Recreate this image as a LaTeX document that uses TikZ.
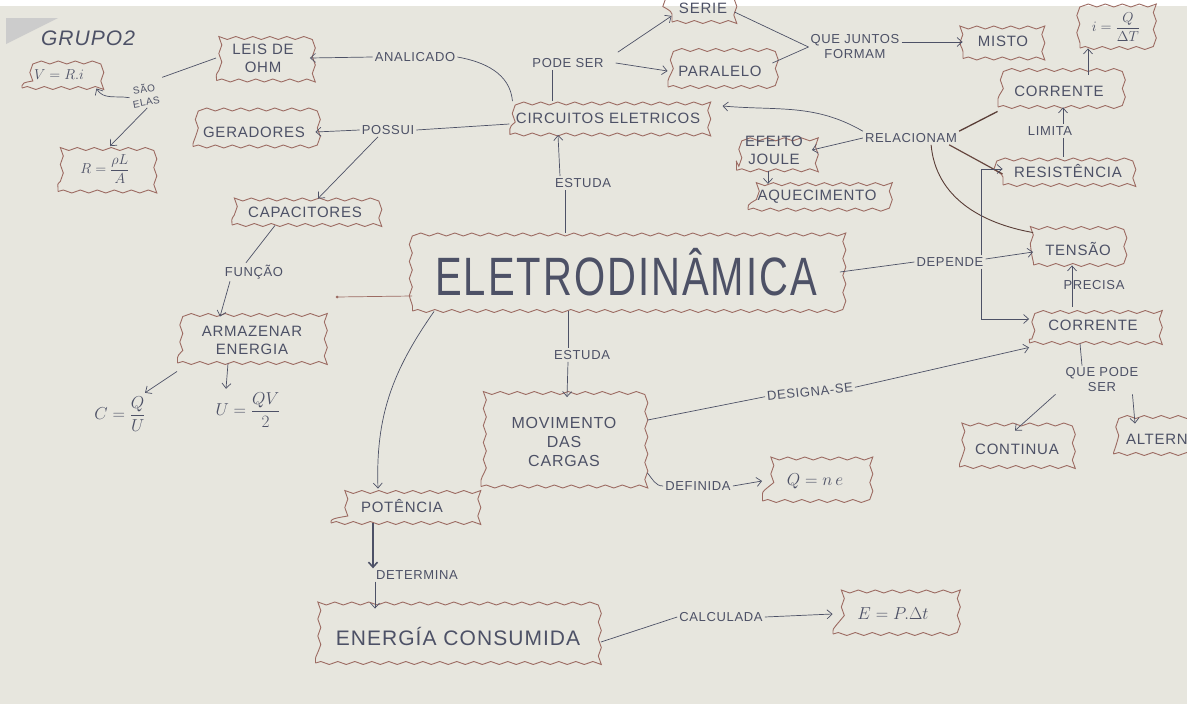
\documentclass[tikz,border=0pt]{standalone}
\usepackage{amsmath}
\usepackage{fontspec}
\setmainfont[LetterSpace=5]{Liberation Sans}
\usetikzlibrary{arrows.meta,decorations.pathmorphing}

\definecolor{paper}{HTML}{E7E6DE}
\definecolor{ink}{HTML}{4D5166}
\definecolor{cloudline}{HTML}{9C6B62}
\definecolor{darkline}{HTML}{5A3E37}

\begin{document}
\begin{tikzpicture}[x=1pt,y=-1pt,
  box/.style={draw=cloudline, line width=0.9pt, decorate,
    decoration={snake, amplitude=1.5pt, segment length=17pt},
    align=center, text=ink, inner sep=6pt, font=\fontsize{15}{18}\selectfont},
  lbl/.style={text=ink, align=center, inner sep=2pt, font=\fontsize{13}{15}\selectfont},
  link/.style={draw=ink, line width=0.7pt},
  arr/.style={link, -{Straight Barb[length=5pt,width=9pt]}}]

  % paper
  \useasboundingbox (0,0) rectangle (1187,704);
  \clip (0,0) rectangle (1187,704);
  \fill[paper] (0,0) rectangle (1187,704);
  \fill[white] (0,0) rectangle (1187,6);
  \fill[gray!40] (6,18) -- (58,18) -- (6,44) -- cycle;

  \node[text=ink, font=\fontsize{21}{23}\itshape\selectfont] (grupo) at (88,38) {GRUPO2};

  % centre
  \node[box, font=\fontsize{40}{44}\selectfont, minimum width=427pt, minimum height=78pt]
    (eletro) at (626,272) {\scalebox{1}[1.35]{ELETRODINÂMICA}};
  \coordinate (stray) at (337,297);

  % top left: leis de ohm, geradores, capacitores
  \node[box, minimum width=93pt, minimum height=45pt] (leis) at (263,58) {LEIS DE\\OHM};
  \node[box, minimum width=74pt, minimum height=26pt] (vri) at (59,75) {$V=R.i$};
  \node[box, minimum width=94pt, minimum height=45pt] (rla) at (105,169) {$R=\dfrac{\rho L}{A}$};
  \node[lbl, rotate=10, font=\fontsize{10}{13}\selectfont] (sao) at (145,95) {SÃO\\ELAS};
  \node[lbl] (ana) at (415,57) {ANALICADO};
  \node[box, minimum width=122pt, minimum height=29pt] (ger) at (254,132) {GERADORES};
  \node[lbl] (possui) at (388,130) {POSSUI};
  \node[box, minimum width=146pt, minimum height=26pt] (cap) at (305,212) {CAPACITORES};
  \node[lbl] (funcao) at (254,272) {FUNÇÃO};
  \node[box, minimum width=149pt, minimum height=46pt] (arm) at (252,340) {ARMAZENAR\\ENERGIA};
  \node[text=ink, font=\fontsize{16}{18}\selectfont] (cqu) at (120,414) {$C=\dfrac{Q}{U}$};
  \node[text=ink, font=\fontsize{16}{18}\selectfont] (uqv) at (248,410) {$U=\dfrac{QV}{2}$};

  % top middle: circuitos
  \node[box, minimum width=196pt, minimum height=33pt] (circ) at (608,118) {CIRCUITOS ELETRICOS};
  \node[lbl] (pode) at (568,63) {PODE SER};
  \node[box, minimum width=62pt, minimum height=28pt] (serie) at (703,8) {SERIE};
  \node[box, minimum width=104pt, minimum height=32pt] (para) at (720,71) {PARALELO};
  \node[lbl] (juntos) at (855,47) {QUE JUNTOS\\FORMAM};
  \node[box, minimum width=80pt, minimum height=35pt] (misto) at (1003,41) {MISTO};
  \node[lbl] (estuda1) at (583,183) {ESTUDA};
  \node[lbl] (rel) at (911,138) {RELACIONAM};
  \node[box, minimum width=75pt, minimum height=38pt] (joule) at (774,150) {EFEITO\\JOULE};
  \node[box, minimum width=138pt, minimum height=25pt] (aque) at (817,197) {AQUECIMENTO};

  % right column
  \node[box, minimum width=72pt, minimum height=42pt] (iqt) at (1116,27) {$i=\dfrac{Q}{\Delta T}$};
  \node[box, minimum width=122pt, minimum height=32pt] (corr1) at (1059,91) {CORRENTE};
  \node[lbl] (limita) at (1050,131) {LIMITA};
  \node[box, minimum width=130pt, minimum height=28pt] (res) at (1068,171) {RESISTÊNCIA};
  \node[lbl] (dep) at (950,262) {DEPENDE};
  \node[box, minimum width=89pt, minimum height=32pt] (ten) at (1078,249) {TENSÃO};
  \node[lbl] (precisa) at (1094,285) {PRECISA};
  \node[box, minimum width=127pt, minimum height=36pt] (corr2) at (1093,325) {CORRENTE};
  \node[lbl] (qps) at (1102,380) {QUE PODE\\SER};
  \node[box, minimum width=115pt, minimum height=36pt] (cont) at (1017,449) {CONTINUA};
  \node[box, minimum width=120pt, minimum height=30pt, anchor=west] (alt) at (1113,439) {ALTERNADA};

  % bottom middle
  \node[lbl] (estuda2) at (582,355) {ESTUDA};
  \node[box, minimum width=166pt, minimum height=89pt, font=\fontsize{16}{19}\selectfont]
    (mov) at (564,442) {MOVIMENTO\\DAS\\CARGAS};
  \node[lbl, rotate=6] (desig) at (810,392) {DESIGNA-SE};
  \node[lbl] (def) at (698,486) {DEFINIDA};
  \node[box, minimum width=105pt, minimum height=40pt, font=\fontsize{18}{20}\selectfont] (qne) at (815,481) {$Q=n\,e$};
  \node[box, minimum width=142pt, minimum height=34pt] (pot) at (402,506) {POTÊNCIA};
  \node[lbl] (det) at (417,575) {DETERMINA};
  \node[box, minimum width=285pt, minimum height=54pt, font=\fontsize{21}{24}\selectfont]
    (energia) at (458,636) {ENERGÍA CONSUMIDA};
  \node[lbl] (calc) at (721,617) {CALCULADA};
  \node[box, minimum width=120pt, minimum height=40pt, font=\fontsize{18}{20}\selectfont] (ept) at (893,614) {$E=P.\Delta t$};

  % connectors: left
  \draw[arr] (ana.west) -- (leis.east);
  \draw[link] (ana.east) to[out=-10,in=95] ([xshift=3pt]circ.north west);
  \draw[link] (leis.west) -- ([xshift=4pt,yshift=2pt]sao.north east);
  \draw[arr] (sao.west) to[out=170,in=-60] (vri.south east);
  \draw[arr] (sao.south) -- ([xshift=5pt]rla.north);
  \draw[link] ([yshift=-6pt]circ.west) -- (possui.east);
  \draw[arr] (possui.west) -- (ger.east);
  \draw[arr] ([xshift=-10pt]possui.south) -- ([xshift=13pt]cap.north);
  \draw[link] ([xshift=-30pt]cap.south) -- ([xshift=-8pt]funcao.north);
  \draw[arr] ([xshift=-24pt]funcao.south) -- ([xshift=-32pt]arm.north);
  \draw[arr] ([xshift=-75pt,yshift=-8pt]arm.south) -- ([xshift=25pt]cqu.north);
  \draw[arr] ([xshift=-24pt]arm.south) -- ([xshift=-22pt]uqv.north);

  % connectors: circuitos
  \draw[link] ([xshift=-56pt]circ.north) -- ([xshift=-16pt]pode.south);
  \draw[arr] ([xshift=12pt,yshift=4pt]pode.north east) -- ([yshift=-8pt]serie.west);
  \draw[arr] ([xshift=10pt]pode.east) -- (para.west);
  \draw[link] ([yshift=-4pt]serie.east) -- (juntos.west);
  \draw[link] ([yshift=8pt]para.east) -- (juntos.west);
  \draw[arr] ([yshift=5pt]juntos.east) -- ([yshift=-1pt]misto.west);
  \draw[link] ([xshift=-61pt]eletro.north) -- ([xshift=-18pt]estuda1.south);
  \draw[arr] ([xshift=-23pt]estuda1.north) -- ([xshift=-50pt]circ.south);
  \draw[arr] (rel.north west) to[out=150,in=-5] ([xshift=16pt,yshift=12pt]circ.east);
  \draw[arr] (rel.west) -- (joule.east);
  \draw[arr] ([xshift=-6pt]joule.south) -- ([xshift=-49pt]aque.north);
  \draw[darkline, line width=1.3pt] (rel.north east) -- ([yshift=-4pt]corr1.south west);
  \draw[darkline!80!cloudline, line width=1.2pt] ([xshift=-10pt]rel.south east) -- ([yshift=-3pt]res.west);
  \draw[darkline, line width=0.9pt] ([xshift=-28pt]rel.south east) to[out=-85,in=170] (ten.north west);

  % connectors: right column
  \draw[arr] ([xshift=29pt]corr1.north) -- ([xshift=-28pt]iqt.south);
  \draw[link] ([xshift=-5pt]res.north) -- ([xshift=13pt]limita.south);
  \draw[arr] ([xshift=13pt]limita.north) -- ([xshift=4pt]corr1.south);
  \draw[link] (eletro.east) -- (dep.west);
  \draw[arr] ([yshift=3pt]dep.east) -- ([yshift=-3pt]ten.west);
  \draw[arr] ([xshift=-4pt]dep.north east) |- ([yshift=2pt]res.west);
  \draw[arr] ([xshift=-4pt]dep.south east) |- ([yshift=6pt]corr2.west);
  \draw[arr] ([xshift=-21pt]corr2.north) -- ([xshift=-6pt]ten.south);
  \draw[link] ([xshift=-13pt]corr2.south) -- ([xshift=-20pt]qps.north);
  \draw[arr] ([xshift=-8pt]qps.south west) -- ([xshift=-2pt]cont.north);
  \draw[arr] ([xshift=-8pt]qps.south east) -- ([xshift=22pt]alt.north west);

  % connectors: bottom
  \draw[link, draw=cloudline] ([yshift=-24pt]eletro.west) -- (stray);
  \fill[cloudline] (stray) circle (1.5pt);
  \draw[link] ([xshift=-58pt]eletro.south) -- ([xshift=-14pt]estuda2.north);
  \draw[arr] ([xshift=-14pt]estuda2.south) -- ([xshift=3pt]mov.north);
  \draw[link] ([yshift=-23pt]mov.north east) -- (desig.west);
  \draw[arr] (desig.east) -- ([yshift=-4pt]corr2.south west);
  \draw[link] ([yshift=14pt]mov.south east) to[out=-50,in=180] (def.west);
  \draw[arr] (def.east) -- (qne.west);
  \draw[arr] ([xshift=22pt]eletro.south west) to[out=235,in=92] ([xshift=-24pt]pot.north);
  \draw[arr, line width=1.6pt] ([xshift=-29pt]pot.south) -- ([xshift=-44pt]det.north);
  \draw[arr] ([xshift=-42pt]det.south) -- ([xshift=-83pt]energia.north);
  \draw[link] ([yshift=-6pt]energia.east) -- (calc.west);
  \draw[arr] (calc.east) -- (ept.west);
\end{tikzpicture}
\end{document}
